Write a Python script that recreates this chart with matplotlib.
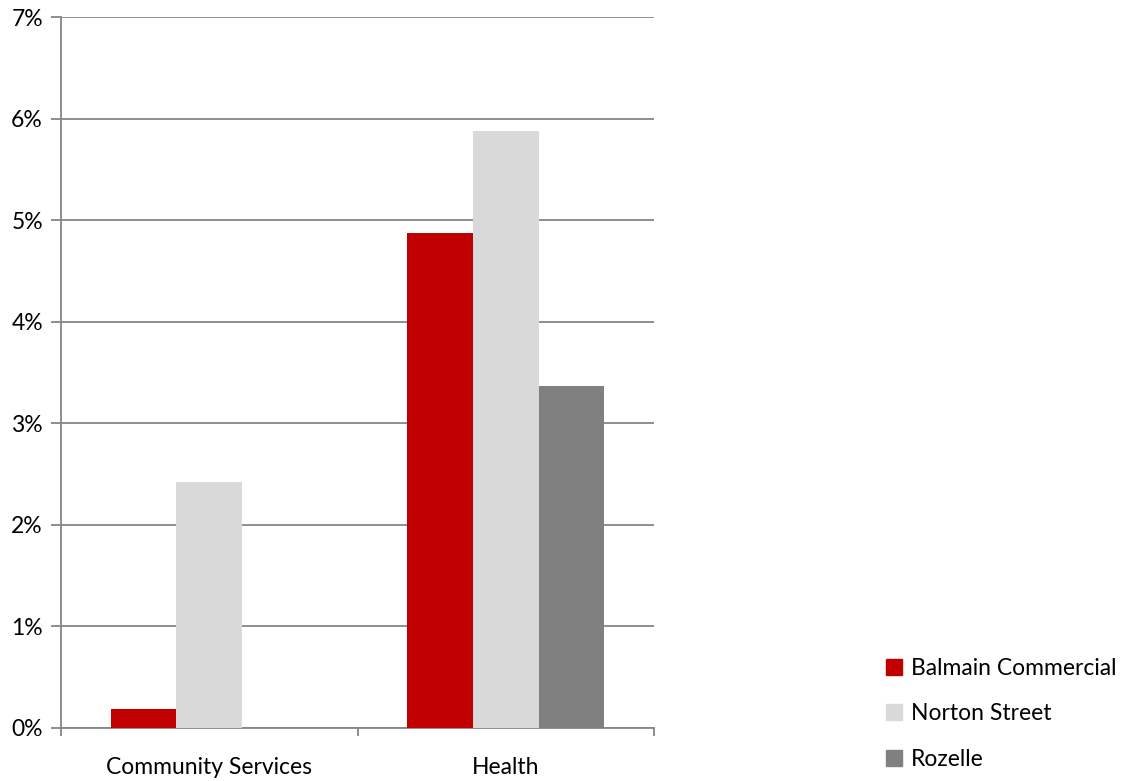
import matplotlib
matplotlib.use("Agg")
import matplotlib.pyplot as plt
import numpy as np
from matplotlib.ticker import FuncFormatter, FixedLocator
from matplotlib.patches import Patch

categories = ["Community Services", "Health"]
series_names = ["Balmain Commercial", "Norton Street", "Rozelle"]
balmain = [0.19, 4.87]
norton = [2.42, 5.88]
rozelle = [0.0, 3.37]
colors = ["#C00000", "#D9D9D9", "#808080"]
yticks = [0, 1, 2, 3, 4, 5, 6, 7]

plt.rcParams['font.family'] = ['Lato', 'DejaVu Sans']

fig = plt.figure(figsize=(11.28, 7.81), dpi=100)
ax = fig.add_axes([61/1128, 1-728/781, (654-61)/1128, (728-17)/781])

x = np.arange(len(categories))
w = 0.221
data = [balmain, norton, rozelle]
for i, (vals, c) in enumerate(zip(data, colors)):
    ax.bar(x + (i-1)*w, vals, width=w, color=c, zorder=3, label=series_names[i])

ax.set_xlim(-0.5, 1.5)
ax.set_ylim(0, 7)
ax.set_yticks(yticks)
ax.yaxis.set_major_formatter(FuncFormatter(lambda v, p: f"{int(v)}%"))
ax.grid(axis='y', color='#868686', linewidth=1.3, zorder=0)
ax.set_xticks(x)
ax.set_xticklabels(categories)
ax.xaxis.set_minor_locator(FixedLocator([-0.5, 0.5, 1.5]))
ax.tick_params(axis='x', which='major', length=0, pad=21, labelsize=16.5)
ax.tick_params(axis='x', which='minor', length=6, color='#868686', width=1.3)
ax.tick_params(axis='y', length=7, color='#868686', width=1.3, labelsize=16.5, pad=6)
for s in ['top', 'right']:
    ax.spines[s].set_visible(False)
for s in ['left', 'bottom']:
    ax.spines[s].set_color('#868686')
    ax.spines[s].set_linewidth(1.3)

handles = [Patch(color=c, label=n) for c, n in zip(colors, series_names)]
fig.legend(handles=handles, loc='upper left', bbox_to_anchor=(865/1128, 1-637/781),
           frameon=False, fontsize=16.5, handlelength=0.7, handleheight=0.7,
           handletextpad=0.4, labelspacing=1.08)

fig.savefig("out.png", dpi=100)
